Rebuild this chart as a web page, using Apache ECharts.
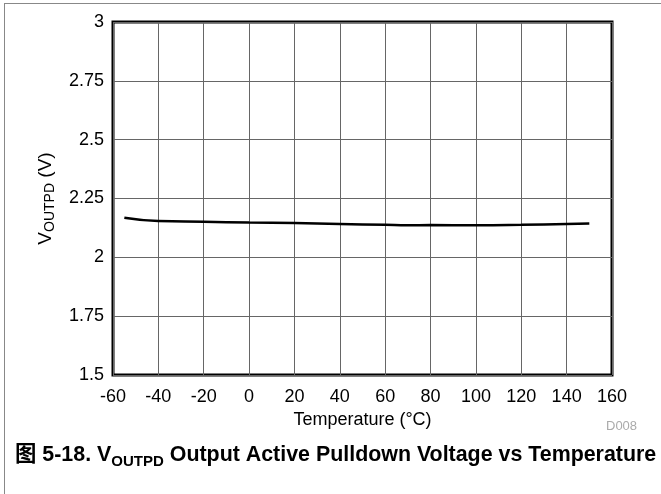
<!DOCTYPE html>
<html>
<head>
<meta charset="utf-8">
<script src="https://cdn.jsdelivr.net/npm/echarts@6/dist/echarts.min.js"></script>
<style>
 html, body { margin: 0; padding: 0; background: #fff; }
 #frame { position: absolute; left: 4px; top: 3px; width: 661px; height: 494px;
 border-left: 1px solid #888; border-top: 1px solid #888; }
 #chart { position: absolute; left: 0; top: 0; width: 661px; height: 494px; }
</style>
</head>
<body>
<div id="frame"></div>
<div id="chart"></div>
<script>
// temperature (°C) and VOUTPD (V)
const temps = [-55, -40, -20, 0, 20, 40, 60, 70, 80, 100, 120, 140, 150]
const voutpd = [2.168, 2.154, 2.151, 2.148, 2.146, 2.142, 2.138, 2.136, 2.137, 2.136, 2.138, 2.142, 2.144]

const font = "'Liberation Sans', Arial, 'Noto Sans CJK SC', sans-serif"

const chart = echarts.init(document.getElementById('chart'), null, { renderer: 'canvas' })

chart.setOption({
 backgroundColor: 'transparent',
 animation: false,
 textStyle: { fontFamily: font },
 title: [
 {
 text: '{b|图 5-18. V}{s|OUTPD}{b| Output Active Pulldown Voltage vs Temperature}',
 left: 15,
 top: 444,
 padding: 0,
 textStyle: {
 rich: {
 b: { fontFamily: font, fontWeight: 'bold', fontSize: 21.4, color: '#000', lineHeight: 21, verticalAlign: 'top' },
 s: { fontFamily: font, fontWeight: 'bold', fontSize: 15, color: '#000', lineHeight: 15, verticalAlign: 'top', padding: [10, 0, 0, 0] },
 },
 },
 },
 {
 text: 'D008',
 left: 606,
 top: 420,
 padding: 0,
 textStyle: { fontFamily: font, fontWeight: 'normal', fontSize: 13, color: '#aaa' },
 },
 ],
 grid: {
 left: 113,
 right: 49,
 top: 22,
 bottom: 119,
 show: true,
 borderColor: '#000',
 borderWidth: 3,
 containLabel: false,
 },
 xAxis: {
 type: 'value',
 min: -60,
 max: 160,
 interval: 20,
 name: 'Temperature (°C)',
 nameLocation: 'middle',
 nameGap: 31,
 nameTextStyle: { fontFamily: font, fontSize: 18, color: '#000' },
 axisLine: { show: false },
 axisTick: { show: false },
 axisLabel: { color: '#000', fontSize: 18, margin: 13, fontFamily: font },
 splitLine: { show: true, lineStyle: { color: '#666', width: 1 } },
 },
 yAxis: {
 type: 'value',
 min: 1.5,
 max: 3,
 interval: 0.25,
 name: '{v|V}{s|OUTPD}{v| (V)}',
 nameLocation: 'middle',
 nameGap: 58,
 nameTextStyle: {
 rich: {
 v: { fontFamily: font, fontSize: 19, color: '#000', lineHeight: 19, verticalAlign: 'top' },
 s: { fontFamily: font, fontSize: 14, color: '#000', lineHeight: 14, verticalAlign: 'top', padding: [7, 0, 0, 0] },
 },
 },
 axisLine: { show: false },
 axisTick: { show: false },
 axisLabel: { color: '#000', fontSize: 18, margin: 9, fontFamily: font },
 splitLine: { show: true, lineStyle: { color: '#666', width: 1 } },
 },
 series: [
 {
 type: 'line',
 data: temps.map((t, i) => [t, voutpd[i]]),
 smooth: true,
 showSymbol: false,
 lineStyle: { color: '#000', width: 2.5 },
 },
 ],
})
</script>
</body>
</html>
